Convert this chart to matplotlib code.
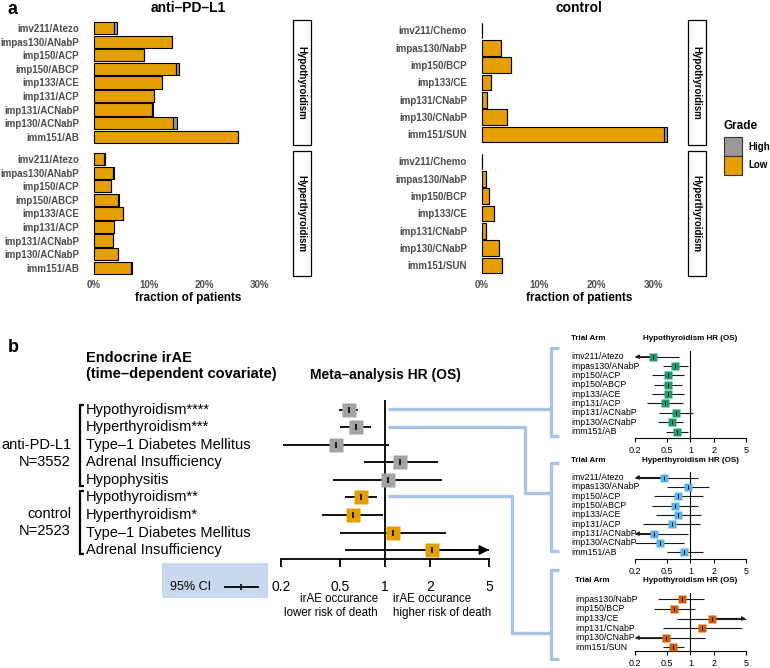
import matplotlib
matplotlib.use("Agg")
import matplotlib.pyplot as plt
import numpy as np
from matplotlib.patches import Rectangle
from matplotlib import transforms
from matplotlib.ticker import NullLocator

plt.rcParams['font.family'] = ['Liberation Sans', 'DejaVu Sans']

# ---------------- data: panel a (fraction of patients, %) ----------------
pdl1_arms = ["imv211/Atezo", "impas130/ANabP", "imp150/ACP", "imp150/ABCP", "imp133/ACE",
             "imp131/ACP", "imp131/ACNabP", "imp130/ACNabP", "imm151/AB"]
pdl1_hypo_low = [3.7, 14.1, 9.0, 14.9, 12.3, 10.8, 10.5, 14.3, 26.0]
pdl1_hypo_high = [0.4, 0.0, 0.1, 0.4, 0.0, 0.0, 0.1, 0.7, 0.1]
pdl1_hyper_low = [1.8, 3.5, 3.0, 4.3, 5.2, 3.6, 3.4, 4.3, 6.7]
pdl1_hyper_high = [0.1, 0.1, 0.0, 0.2, 0.0, 0.0, 0.1, 0.1, 0.2]

ctrl_arms = ["imv211/Chemo", "impas130/NabP", "imp150/BCP", "imp133/CE", "imp131/CNabP",
             "imp130/CNabP", "imm151/SUN"]
ctrl_hypo_low = [0.0, 3.3, 5.1, 1.7, 0.9, 4.4, 32.0]
ctrl_hypo_high = [0.0, 0.0, 0.0, 0.0, 0.0, 0.0, 0.5]
ctrl_hyper_low = [0.0, 0.75, 1.3, 2.1, 0.7, 3.1, 3.5]
ctrl_hyper_high = [0.0, 0.0, 0.0, 0.0, 0.0, 0.0, 0.0]

pct_ticks = [0, 10, 20, 30]
pct_labels = ["0%", "10%", "20%", "30%"]

# ---------------- data: panel b meta-analysis ----------------
meta_labels = ["Hypothyroidism****", "Hyperthyroidism***", "Type\u20131 Diabetes Mellitus",
               "Adrenal Insufficiency", "Hypophysitis", "Hypothyroidism**", "Hyperthyroidism*",
               "Type\u20131 Diabetes Mellitus", "Adrenal Insufficiency"]
meta_group = ["anti-PD-L1"] * 5 + ["control"] * 4
meta_hr = [0.57, 0.635, 0.47, 1.27, 1.04, 0.69, 0.607, 1.14, 2.07]
meta_lo = [0.49, 0.50, 0.205, 0.72, 0.445, 0.54, 0.38, 0.50, 0.54]
meta_hi = [0.66, 0.805, 1.07, 2.26, 2.43, 0.89, 0.965, 2.56, 8.0]

hr_ticks = [0.2, 0.5, 1, 2, 5]
hr_ticklabels = ["0.2", "0.5", "1", "2", "5"]

# small forest 1: anti-PD-L1 hypothyroidism
f1_arms = pdl1_arms
f1_hr = [0.334, 0.645, 0.52, 0.52, 0.517, 0.478, 0.658, 0.58, 0.671]
f1_lo = [0.15, 0.455, 0.325, 0.35, 0.325, 0.286, 0.405, 0.393, 0.488]
f1_hi = [0.718, 0.94, 0.84, 0.777, 0.84, 0.813, 1.09, 0.813, 0.925]
# small forest 2: anti-PD-L1 hyperthyroidism
f2_arms = pdl1_arms
f2_hr = [0.464, 0.925, 0.703, 0.64, 0.703, 0.58, 0.35, 0.413, 0.84]
f2_lo = [0.15, 0.5, 0.347, 0.33, 0.368, 0.255, 0.15, 0.2, 0.51]
f2_hi = [1.26, 1.72, 1.43, 1.26, 1.35, 1.32, 0.94, 0.84, 1.43]
# small forest 3: control hypothyroidism
f3_arms = ["impas130/NabP", "imp150/BCP", "imp133/CE", "imp131/CNabP", "imp130/CNabP", "imm151/SUN"]
f3_hr = [0.776, 0.626, 1.86, 1.41, 0.488, 0.597]
f3_lo = [0.393, 0.35, 0.684, 0.455, 0.15, 0.447]
f3_hi = [1.5, 1.14, 7.0, 4.52, 1.53, 0.83]

# ---------------- styles ----------------
ORANGE = '#E69F00'
GREY = '#999999'
LABEL_GREY = '#4D4D4D'
LIGHT_BLUE = '#A9C2E6'
BOX_BLUE = '#C8D8EF'
GREEN = '#1B9E77'
SKY = '#56B4E9'
VERMIL = '#D55E00'

W, H = 770, 668
fig = plt.figure(figsize=(W / 100, H / 100), dpi=100)


def add_ax(x0, y0, x1, y1):
    ax = fig.add_axes([x0 / W, 1 - y1 / H, (x1 - x0) / W, (y1 - y0) / H])
    return ax


def ftext(x, y, s, **kw):
    fig.text(x / W, 1 - y / H, s, **kw)


def frect(x0, y0, x1, y1, **kw):
    fig.patches.append(Rectangle((x0 / W, 1 - y1 / H), (x1 - x0) / W, (y1 - y0) / H,
                                 transform=fig.transFigure, **kw))


# ---------------- panel a ----------------
def bar_panel(x0, y0, x1, y1, zero_px, px_per_pct, arms, low, high, show_x):
    ax = add_ax(x0, y0, x1, y1)
    y = np.arange(len(arms))
    low = np.array(low)
    high = np.array(high)
    ax.barh(y, low, height=0.9, color=ORANGE, edgecolor='black', lw=0.8, zorder=2)
    ax.barh(y, high, left=low, height=0.9, color=GREY, edgecolor='black', lw=0.8, zorder=2)
    ax.set_xlim((x0 - zero_px) / px_per_pct, (x1 - zero_px) / px_per_pct)
    ax.set_ylim(len(arms) - 0.4, -0.6)
    for s in ax.spines.values():
        s.set_visible(False)
    ax.set_yticks(y)
    ax.set_yticklabels(arms, fontsize=7, fontweight='bold', color=LABEL_GREY)
    ax.tick_params(axis='y', length=0, pad=8)
    if show_x:
        ax.set_xticks(pct_ticks)
        ax.set_xticklabels(pct_labels, fontsize=7, fontweight='bold', color=LABEL_GREY)
        ax.tick_params(axis='x', length=0, pad=3)
    else:
        ax.set_xticks([])
    return ax


bar_panel(90, 20, 286, 144.8, 94, 5.53, pdl1_arms, pdl1_hypo_low, pdl1_hypo_high, False)
bar_panel(90, 151, 286, 275.8, 94, 5.53, pdl1_arms, pdl1_hyper_low, pdl1_hyper_high, True)
bar_panel(478, 20, 680, 144.8, 481.7, 5.71, ctrl_arms, ctrl_hypo_low, ctrl_hypo_high, False)
bar_panel(478, 151, 680, 275.8, 481.7, 5.71, ctrl_arms, ctrl_hyper_low, ctrl_hyper_high, True)

# strips
for sx in (293, 688):
    for (sy0, sy1, lab) in ((20, 144.8, "Hypothyroidism"), (151, 275.8, "Hyperthyroidism")):
        frect(sx, sy0, sx + 17.5, sy1, facecolor='white', edgecolor='black', lw=0.9)
        ftext(sx + 8.75, (sy0 + sy1) / 2, lab, rotation=270, ha='center', va='center',
              fontsize=7, fontweight='bold')

ftext(8, 10, "a", fontsize=13, fontweight='bold', ha='left', va='center')
ftext(188, 8, "anti\u2013PD\u2013L1", fontsize=10, fontweight='bold', ha='center', va='center')
ftext(579, 8, "control", fontsize=10, fontweight='bold', ha='center', va='center')
ftext(188, 297.5, "fraction of patients", fontsize=8.5, fontweight='bold', ha='center', va='center')
ftext(579, 297.5, "fraction of patients", fontsize=8.5, fontweight='bold', ha='center', va='center')

# legend
ftext(724, 126, "Grade", fontsize=8.5, fontweight='bold', ha='left', va='center')
frect(724, 137.5, 741.5, 155.5, facecolor=GREY, edgecolor='#333333', lw=0.8)
frect(724, 156.5, 741.5, 174.5, facecolor=ORANGE, edgecolor='#333333', lw=0.8)
ftext(748, 146.5, "High", fontsize=7, fontweight='bold', ha='left', va='center')
ftext(748, 165.5, "Low", fontsize=7, fontweight='bold', ha='left', va='center')


# ---------------- panel b ----------------
def draw_ci(ax, i, h, l, u, color, ms, lw, tick_ms, head_len, head_w, line_color='black'):
    xmin, xmax = hr_ticks[0], hr_ticks[-1]
    lc, uc = max(l, xmin), min(u, xmax)
    ax.plot([lc, uc], [i, i], color=line_color, lw=lw, solid_capstyle='butt', zorder=2)
    style = '-|>,head_length=%.2f,head_width=%.2f' % (head_len, head_w)
    if u > xmax:
        ax.annotate('', xy=(xmax, i), xytext=(h, i),
                    arrowprops=dict(arrowstyle=style, color=line_color, lw=lw,
                                    shrinkA=0, shrinkB=0), zorder=2)
    if l < xmin:
        ax.annotate('', xy=(xmin, i), xytext=(h, i),
                    arrowprops=dict(arrowstyle=style, color=line_color, lw=lw,
                                    shrinkA=0, shrinkB=0), zorder=2)
    ax.plot(h, i, marker='s', ms=ms, color=color, mec='none', zorder=3)
    ax.plot(h, i, marker='|', ms=tick_ms, color='black', mew=lw * 0.9, zorder=4)


def setup_log_axis(ax, x0, x1, one_px, decade_px, top_px, bottom_px, row0_px, row_step,
                   spine_lw, tick_len, label_size, pad):
    ax.set_xscale('log')
    ax.set_xlim(10 ** ((x0 - one_px) / decade_px), 10 ** ((x1 - one_px) / decade_px))
    ax.set_ylim((bottom_px - row0_px) / row_step, (top_px - row0_px) / row_step)
    ax.patch.set_visible(False)
    for k in ('top', 'right', 'left'):
        ax.spines[k].set_visible(False)
    ax.spines['bottom'].set_bounds(hr_ticks[0], hr_ticks[-1])
    ax.spines['bottom'].set_linewidth(spine_lw)
    ax.set_xticks(hr_ticks)
    ax.set_xticklabels(hr_ticklabels)
    ax.xaxis.set_minor_locator(NullLocator())
    ax.set_yticks([])
    ax.tick_params(axis='x', length=tick_len, width=spine_lw, labelsize=label_size, pad=pad)
    ylim = ax.get_ylim()
    ax.plot([1, 1], [ylim[0], ylim[1]], color='black', lw=spine_lw, zorder=1)


# main forest
ROW0, STEP = 410.0, 17.5
axm = add_ax(270, 400, 500, 559)
setup_log_axis(axm, 270, 500, 385, 148.8, 400, 559, ROW0, STEP, 1.3, 5.8, 10, 9)
meta_colors = [('#A3A3A3' if g == "anti-PD-L1" else ORANGE) for g in meta_group]
for i, (h, l, u, c) in enumerate(zip(meta_hr, meta_lo, meta_hi, meta_colors)):
    draw_ci(axm, i, h, l, u, c, 10, 1.3, 5, 0.55, 0.28)

tm = transforms.blended_transform_factory(fig.transFigure, axm.transData)
for i, lab in enumerate(meta_labels):
    axm.text(86 / W, i, lab, transform=tm, ha='left', va='center', fontsize=10.5)


def row_px(i):
    return ROW0 + STEP * i


ftext(71, row_px(2), "anti-PD-L1", ha='right', va='center', fontsize=10.5)
ftext(71, row_px(3), "N=3552", ha='right', va='center', fontsize=10.5)
ftext(71, row_px(6) - 1.5, "control", ha='right', va='center', fontsize=10.5)
ftext(71, row_px(7) - 1.5, "N=2523", ha='right', va='center', fontsize=10.5)

ftext(8, 347, "b", fontsize=13, fontweight='bold', ha='left', va='center')
ftext(86, 358, "Endocrine irAE", fontsize=10.5, fontweight='bold', ha='left', va='center')
ftext(86, 374, "(time\u2013dependent covariate)", fontsize=10.5, fontweight='bold', ha='left', va='center')
ftext(385, 375, "Meta\u2013analysis HR (OS)", fontsize=10, fontweight='bold', ha='center', va='center')
ftext(378, 599, "irAE occurance", fontsize=8.3, ha='right', va='center')
ftext(378, 613, "lower risk of death", fontsize=8.3, ha='right', va='center')
ftext(393, 599, "irAE occurance", fontsize=8.3, ha='left', va='center')
ftext(393, 613, "higher risk of death", fontsize=8.3, ha='left', va='center')


# small forests
def small_forest(top, bottom, row0, step, arms, hr, lo, hi, color, label_x, header_y, title):
    ax = add_ax(625, top, 755, bottom)
    setup_log_axis(ax, 625, 755, 690.4, 79.2, top, bottom, row0, step, 0.8, 3, 6.5, 3)
    for i, (h, l, u) in enumerate(zip(hr, lo, hi)):
        draw_ci(ax, i, h, l, u, color, 5.2, 0.8, 3, 0.22, 0.12, line_color='#1a1a1a')
    t = transforms.blended_transform_factory(fig.transFigure, ax.transData)
    for i, a in enumerate(arms):
        ax.text(label_x / W, i, a, transform=t, ha='left', va='center', fontsize=6.3)
    ftext(label_x, header_y, "Trial Arm", fontsize=5.8, fontweight='bold', ha='left', va='center')
    ftext(690, header_y, title, fontsize=5.8, fontweight='bold', ha='center', va='center')
    return ax


small_forest(351.5, 437.7, 356.7, 9.35, f1_arms, f1_hr, f1_lo, f1_hi, GREEN, 571, 338.5,
             "Hypothyroidism HR (OS)")
small_forest(472, 559, 477.5, 9.35, f2_arms, f2_hr, f2_lo, f2_hi, SKY, 571, 460,
             "Hyperthyroidism HR (OS)")
small_forest(593, 650.7, 599.3, 9.6, f3_arms, f3_hr, f3_lo, f3_hi, VERMIL, 575, 580.7,
             "Hypothyroidism HR (OS)")

# overlay for connectors / brackets / CI key
ov = fig.add_axes([0, 0, 1, 1])
ov.set_xlim(0, W)
ov.set_ylim(H, 0)
ov.axis('off')
ov.add_patch(Rectangle((162, 563), 106, 35, facecolor=BOX_BLUE, edgecolor='none', zorder=0))
ov.text(170, 587, "95% CI", fontsize=9, ha='left', va='center', zorder=2)
ov.plot([225, 258], [587, 587], color='black', lw=1.3, zorder=2)
ov.plot([241], [587], marker='|', ms=5, color='black', mew=1.2, zorder=3)

blk = dict(color='black', lw=1.6, solid_joinstyle='miter', solid_capstyle='butt')
ov.plot([84, 80, 80, 84], [row_px(0) - 5, row_px(0) - 5, row_px(4) + 6, row_px(4) + 6], **blk)
ov.plot([84, 80, 80, 84], [row_px(5) - 7, row_px(5) - 7, row_px(8) + 4, row_px(8) + 4], **blk)

bl = dict(color=LIGHT_BLUE, lw=2.4, solid_joinstyle='round', solid_capstyle='butt')
ov.plot([388, 551], [409, 409], **bl)
ov.plot([559, 551, 551, 559], [348, 348, 436, 436], **bl)
ov.plot([388, 525, 525, 551], [427, 427, 493, 493], **bl)
ov.plot([559, 551, 551, 559], [463, 463, 551, 551], **bl)
ov.plot([388, 512, 512, 551], [496, 496, 633, 633], **bl)
ov.plot([559, 551, 551, 559], [570, 570, 659, 659], **bl)

fig.savefig("out.png", dpi=100)
